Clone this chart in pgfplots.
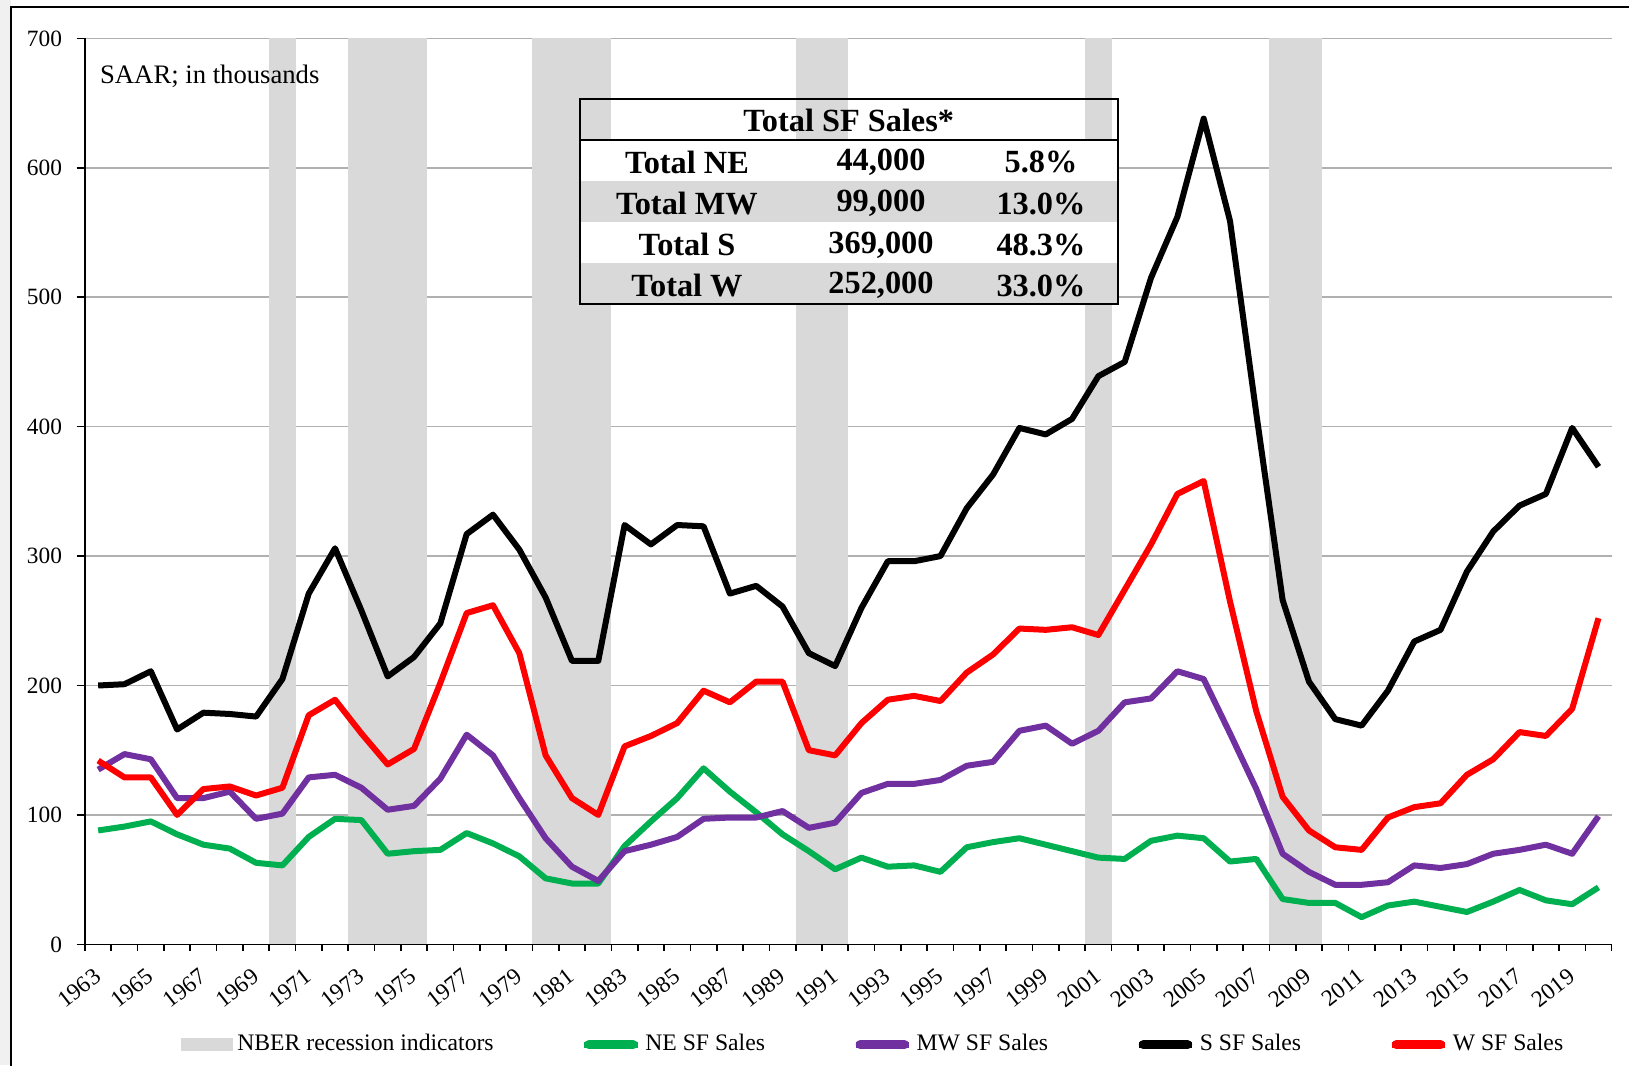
\documentclass[border=0pt]{standalone}
\usepackage{fontspec}
\setmainfont{Liberation Serif}
\usepackage{pgfplots}
\usepackage{pgfplotstable}
\pgfplotsset{compat=1.18}

\definecolor{recgray}{HTML}{D9D9D9}
\definecolor{negreen}{HTML}{00B050}
\definecolor{mwpurple}{HTML}{7030A0}
\definecolor{wred}{HTML}{FF0000}
\definecolor{gridgray}{HTML}{B0B0B0}

\pgfplotstableread{
year NE MW S W
1963 88 135 200 142
1964 91 147 201 129
1965 95 143 211 129
1966 85 113 166 100
1967 77 113 179 120
1968 74 118 178 122
1969 63 97 176 115
1970 61 101 205 121
1971 83 129 271 177
1972 97 131 306 189
1973 96 121 258 163
1974 70 104 207 139
1975 72 107 222 151
1976 73 128 248 202
1977 86 162 317 256
1978 78 146 332 262
1979 68 113 305 225
1980 51 82 268 146
1981 47 60 219 113
1982 47 49 219 100
1983 76 72 324 153
1984 95 77 309 161
1985 113 83 324 171
1986 136 97 323 196
1987 118 98 271 187
1988 102 98 277 203
1989 85 103 261 203
1990 72 90 225 150
1991 58 94 215 146
1992 67 117 260 171
1993 60 124 296 189
1994 61 124 296 192
1995 56 127 300 188
1996 75 138 337 210
1997 79 141 363 224
1998 82 165 399 244
1999 77 169 394 243
2000 72 155 406 245
2001 67 165 439 239
2002 66 187 450 274
2003 80 190 515 309
2004 84 211 562 348
2005 82 205 638 358
2006 64 163 559 265
2007 66 120 410 180
2008 35 70 266 114
2009 32 56 203 88
2010 32 46 174 75
2011 21 46 169 73
2012 30 48 196 98
2013 33 61 234 106
2014 29 59 243 109
2015 25 62 288 131
2016 33 70 319 143
2017 42 73 339 164
2018 34 77 348 161
2019 31 70 399 182
2020 44 99 369 252
}\sales

\begin{document}
\begin{tikzpicture}
\useasboundingbox (-25.5pt,-36.2pt) rectangle (463.2pt,283.3pt);
\fill[gray!12] (-25.5pt,-36.2pt) rectangle (-22.3pt,283.3pt);
\draw[line width=0.6pt] (-22.3pt,-40pt) -- (-22.3pt,281.3pt) -- (470pt,281.3pt);
\begin{axis}[
  scale only axis, width=458pt, height=271.8pt,
  xmin=1962.5, xmax=2020.5, ymin=0, ymax=700,
  axis x line*=bottom, axis y line*=left,
  axis line style={black, line width=0.5pt},
  tick align=outside,
  ytick={0,100,...,700},
  xtick={1963,1965,...,2019},
  minor xtick={1962.5,1963.5,...,2020.5},
  major tick length=2.5pt, minor tick length=2pt,
  major x tick style={draw=none},
  minor x tick style={black, line width=0.5pt},
  ytick style={black, line width=0.5pt},
  ymajorgrids, grid style={gridgray, line width=0.5pt},
  /pgf/number format/assume math mode=true,
  /pgf/number format/1000 sep={},
  yticklabel style={font=\fontsize{7}{8.4}\selectfont, anchor=east, inner sep=0pt},
  yticklabel shift=4.2pt,
  xticklabel style={font=\fontsize{7}{8.4}\selectfont, rotate=38, anchor=east, inner sep=0pt},
  xticklabel shift=6.2pt,
  clip=false,
  legend style={at={(0,0)}, anchor=west, xshift=28.8pt, yshift=-30.1pt,
    draw=none, fill=none, inner sep=0pt, outer sep=0pt,
    font=\fontsize{7.1}{8.5}\selectfont,
    nodes={inner sep=0pt},
    /tikz/every odd column/.append style={column sep=1.4pt},
    /tikz/every even column/.append style={column sep=26.3pt}},
  legend columns=-1,
  legend cell align=left,
]
% recession bands
\addplot[fill=recgray, draw=none,
  legend image code/.code={\fill[recgray] (0pt,-1.9pt) rectangle (15.5pt,1.9pt);}]
  coordinates {(1969.5,700) (1970.5,700)} \closedcycle;
\addplot[fill=recgray, draw=none, forget plot] coordinates {(1972.5,700) (1975.5,700)} \closedcycle;
\addplot[fill=recgray, draw=none, forget plot] coordinates {(1979.5,700) (1982.5,700)} \closedcycle;
\addplot[fill=recgray, draw=none, forget plot] coordinates {(1989.5,700) (1991.5,700)} \closedcycle;
\addplot[fill=recgray, draw=none, forget plot] coordinates {(2000.5,700) (2001.5,700)} \closedcycle;
\addplot[fill=recgray, draw=none, forget plot] coordinates {(2007.5,700) (2009.5,700)} \closedcycle;

\pgfplotsset{every axis plot/.append style={line width=1.8pt, line join=round,
  legend image code/.code={\path (0pt,0pt) -- (16pt,0pt);
    \draw[##1, line width=2.7pt, line cap=round] (1.35pt,0pt) -- (14.65pt,0pt);}}}
\addplot[negreen] table[x=year, y=NE] {\sales};
\addplot[mwpurple] table[x=year, y=MW] {\sales};
\addplot[black] table[x=year, y=S] {\sales};
\addplot[wred] table[x=year, y=W] {\sales};
\legend{NBER recession indicators, NE SF Sales, MW SF Sales, S SF Sales, W SF Sales}
\end{axis}

% note
\node[anchor=base west, inner sep=0pt, font=\fontsize{8}{9.6}\selectfont] at (4.35pt,258.3pt) {SAAR; in thousands};

% inset table
\begin{scope}[font=\fontsize{9.7}{11}\selectfont\bfseries]
\fill[white] (148.35pt,241.4pt) rectangle (309.9pt,229.0pt);
\fill[recgray] (148.35pt,229.0pt) rectangle (309.9pt,216.6pt);
\fill[white] (148.35pt,216.6pt) rectangle (309.9pt,204.3pt);
\fill[recgray] (148.35pt,204.3pt) rectangle (309.9pt,192.1pt);
\draw[line width=0.6pt] (148.35pt,192.1pt) rectangle (309.9pt,253.7pt);
\draw[line width=0.6pt] (148.35pt,241.4pt) -- (309.9pt,241.4pt);
\node at (229.1pt,247.05pt) {Total SF Sales*};
\node at (180.6pt,234.6pt) {Total NE};
\node at (238.8pt,234.6pt) {44,000};
\node at (286.8pt,234.6pt) {5.8\%};
\node at (180.6pt,222.2pt) {Total MW};
\node at (238.8pt,222.2pt) {99,000};
\node at (286.8pt,222.2pt) {13.0\%};
\node at (180.6pt,209.85pt) {Total S};
\node at (238.8pt,209.85pt) {369,000};
\node at (286.8pt,209.85pt) {48.3\%};
\node at (180.6pt,197.6pt) {Total W};
\node at (238.8pt,197.6pt) {252,000};
\node at (286.8pt,197.6pt) {33.0\%};
\end{scope}
\end{tikzpicture}
\end{document}
